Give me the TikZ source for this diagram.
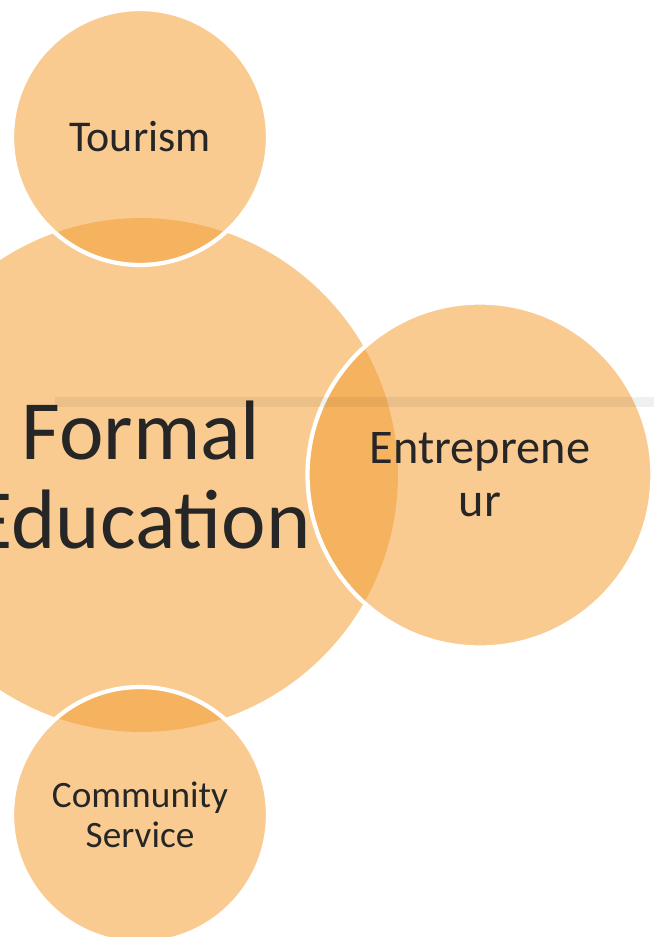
\documentclass[tikz,border=0pt]{standalone}
\usepackage{fontspec}
\setmainfont{Carlito}
\usetikzlibrary{positioning}
\definecolor{my_peach}{RGB}{249, 203, 145}
\definecolor{my_orange}{RGB}{244, 160, 55}
\definecolor{my_text}{RGB}{38, 38, 38}
\tikzset {
  hub/.style = {circle, fill=my_peach, text=my_text, align=center, inner sep=0pt},
  petal/.style = {circle, fill=my_orange, fill opacity=0.55, draw=white, draw opacity=1, line width=2.4pt, text=my_text, text opacity=1, align=center, inner sep=0pt},
  band/.style = {fill=black, fill opacity=0.06}
}

\begin{document}
\begin{tikzpicture}[x=0.02cm, y=-0.02cm]

    \useasboundingbox (0,0) rectangle (654,937);
    \clip (0,0) rectangle (654,937);

    \node[hub, minimum size=10.28cm, font=\fontsize{48}{51}\selectfont] (formal) at (141,475) {Formal\\Education};
    \node[petal, minimum size=5.12cm, font=\fontsize{25}{29}\selectfont] (tourism) at (140,137) {Tourism};
    \node[petal, minimum size=6.9cm, font=\fontsize{27.5}{30}\selectfont] (entre) at (480,475) {Entreprene\\ur};
    \node[petal, minimum size=5.12cm, font=\fontsize{21.2}{23}\selectfont] (community) at (140,815) {Community\\Service};

    % faint rule across the page
    \fill[band] (55,397) rectangle (654,407);

\end{tikzpicture}
\end{document}
